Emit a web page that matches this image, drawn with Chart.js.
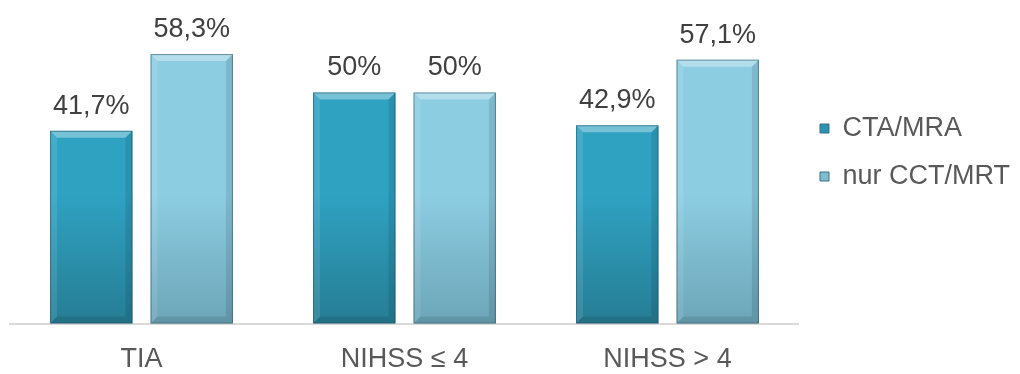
<!DOCTYPE html>
<html>
<head>
<meta charset="utf-8">
<script src="https://cdn.jsdelivr.net/npm/chart.js@4"></script>
<style>
  html, body { margin: 0; padding: 0; background: #fff; }
  #wrap { width: 1020px; height: 374px; }
</style>
</head>
<body>
<div id="wrap"><canvas id="chart"></canvas></div>
<script>
// Daten
const kategorien = ['TIA', 'NIHSS \u2264 4', 'NIHSS > 4'];
const ctaMra     = [41.7, 50, 42.9];
const nurCctMrt  = [58.3, 50, 57.1];

const FONT = '"Liberation Sans", Arial, sans-serif';
const fmt = v => String(v).replace('.', ',') + '%';

// vertikaler Verlauf pro Serie (oben hell, unten dunkler)
function verlauf(top, bottom) {
  return (ctx) => {
    const area = ctx.chart.chartArea;
    if (!area) return top;
    const g = ctx.chart.ctx.createLinearGradient(0, area.top, 0, area.bottom);
    g.addColorStop(0, top);
    g.addColorStop(0.6, top);
    g.addColorStop(1, bottom);
    return g;
  };
}

// abgeschrägte Kanten auf den Balken
const bevel = {
  id: 'bevel',
  afterDatasetsDraw(chart) {
    const c = chart.ctx;
    const b = 7;
    chart.data.datasets.forEach((ds, di) => {
      chart.getDatasetMeta(di).data.forEach(bar => {
        const l = bar.x - bar.width / 2, r = bar.x + bar.width / 2;
        const t = bar.y, btm = bar.base;
        c.save();
        c.fillStyle = 'rgba(255,255,255,0.35)';
        c.beginPath();
        c.moveTo(l, t); c.lineTo(r, t); c.lineTo(r - b, t + b); c.lineTo(l + b, t + b);
        c.closePath(); c.fill();
        c.fillStyle = 'rgba(255,255,255,0.1)';
        c.beginPath();
        c.moveTo(l, t); c.lineTo(l + b, t + b); c.lineTo(l + b, btm - b); c.lineTo(l, btm);
        c.closePath(); c.fill();
        c.fillStyle = 'rgba(0,0,0,0.1)';
        c.beginPath();
        c.moveTo(r, t); c.lineTo(r - b, t + b); c.lineTo(r - b, btm - b); c.lineTo(r, btm);
        c.closePath(); c.fill();
        c.beginPath();
        c.moveTo(l, btm); c.lineTo(l + b, btm - b); c.lineTo(r - b, btm - b); c.lineTo(r, btm);
        c.closePath(); c.fill();
        c.strokeStyle = 'rgba(20,70,90,0.5)';
        c.lineWidth = 1;
        c.strokeRect(l + 0.5, t + 0.5, bar.width - 1, btm - t - 1);
        c.restore();
      });
    });
  }
};

// Wertebeschriftung über den Balken
const werte = {
  id: 'werte',
  afterDatasetsDraw(chart) {
    const c = chart.ctx;
    c.save();
    c.font = '27px ' + FONT;
    c.fillStyle = '#404040';
    c.textAlign = 'center';
    c.textBaseline = 'alphabetic';
    chart.data.datasets.forEach((ds, di) => {
      chart.getDatasetMeta(di).data.forEach((bar, i) => {
        c.fillText(fmt(ds.data[i]), bar.x, bar.y - 17);
      });
    });
    c.restore();
  }
};

new Chart(document.getElementById('chart'), {
  type: 'bar',
  data: {
    labels: kategorien,
    datasets: [
      { label: 'CTA/MRA', data: ctaMra,
        backgroundColor: verlauf('#2fa2c2', '#267d94'), borderWidth: 0 },
      { label: 'nur CCT/MRT', data: nurCctMrt,
        backgroundColor: verlauf('#8dcde2', '#6ca5b8'), borderWidth: 0 },
    ],
  },
  options: {
    responsive: true,
    maintainAspectRatio: false,
    animation: false,
    categoryPercentage: 0.764,
    barPercentage: 0.82,
    layout: { padding: { top: 0, left: 10, right: 0, bottom: -14 } },
    plugins: {
      tooltip: { enabled: false },
      legend: {
        position: 'right',
        align: 'start',
        title: { display: true, text: '', font: { size: 10 }, padding: { top: 0, bottom: 82 } },
        labels: {
          boxWidth: 9, boxHeight: 9, padding: 21,
          color: '#595959',
          font: { family: FONT, size: 27 },
          generateLabels(chart) {
            const cols = ['#2a93b2', '#7fbdd2'];
            return chart.data.datasets.map((ds, i) => ({
              text: ds.label, fillStyle: cols[i], strokeStyle: '#3a6f80',
              lineWidth: 1, datasetIndex: i, fontColor: '#595959'
            }));
          }
        }
      }
    },
    scales: {
      x: {
        grid: { display: false },
        border: { display: true, color: '#d9d9d9', width: 2 },
        ticks: {
          color: '#595959', padding: 12,
          font: { family: FONT, size: 27 }
        }
      },
      y: { display: false, min: 0, max: 70 }
    }
  },
  plugins: [bevel, werte]
});
</script>
</body>
</html>
